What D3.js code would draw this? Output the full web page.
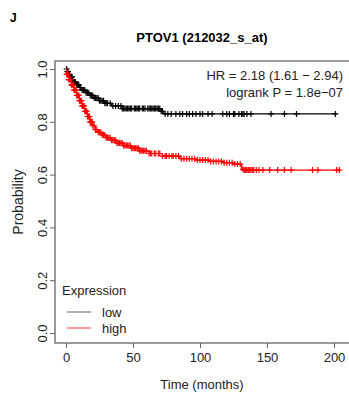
<!DOCTYPE html>
<html>
<head>
<meta charset="utf-8">
<script src="https://cdn.jsdelivr.net/npm/d3@7"></script>
<style>
  body { margin: 0; background: #fff; }
  svg { display: block; font-family: "Liberation Sans", Arial, sans-serif; }
</style>
</head>
<body>
<div id="chart"></div>
<script>
// Kaplan-Meier steps: [time (months), survival]
const lowSteps = [
    [0, 1.0], [1, 0.99], [2, 0.98], [3, 0.97], [5, 0.96], [6, 0.95], [8, 0.94],
    [10, 0.93], [12, 0.92], [15, 0.91], [18, 0.90], [21, 0.89], [25, 0.88],
    [29, 0.87], [34, 0.86], [42, 0.85], [71, 0.84], [73, 0.83]
];
const highSteps = [
    [0, 1.0], [0.5, 0.98], [2, 0.96], [4, 0.94], [6, 0.92], [8, 0.90], [10, 0.88],
    [12, 0.86], [14, 0.84], [16, 0.82], [18, 0.80], [20, 0.785], [22, 0.77],
    [24, 0.76], [27, 0.75], [30, 0.74], [34, 0.73], [38, 0.72], [43, 0.71],
    [49, 0.70], [55, 0.69], [62, 0.68], [72, 0.67], [85, 0.66], [97, 0.655],
    [108, 0.65], [118, 0.645], [125, 0.64], [131, 0.62], [133, 0.617]
];
const lowEnd = 202;
const highEnd = 204;

// censoring times (the "+" marks)
const lowCensor = [
    0.5, 1, 1.5, 2, 2.5, 3, 4, 4.5, 5, 6, 6.5, 7, 8, 9, 9.5, 10.5, 11, 12, 13, 14,
    15, 16, 17, 18, 19, 20, 21, 22, 23, 24, 25, 26, 27, 28, 29, 30, 31, 33, 35, 37,
    39, 41, 42, 43, 44, 45, 46, 47, 48, 49, 51, 52, 53, 54, 55, 57, 58, 59, 61, 62,
    63, 64, 65, 66, 67, 68, 69, 70, 71, 72,
    74, 76, 78.5, 82, 85, 87, 90, 92, 94.5, 97, 100, 102, 106, 109, 117, 120, 122,
    125, 126, 129, 131, 132, 133, 135, 138, 153, 163, 172, 201
];
const highCensor = [
    0.5, 1, 1.5, 2, 2.5, 3, 3.5, 4, 4.5, 5, 5.5, 6, 6.5, 7, 7.5, 8, 8.5, 9, 9.5, 10,
    10.5, 11, 11.5, 12, 12.5, 13, 13.5, 14, 14.5, 15, 15.5, 16, 16.5, 17, 17.5, 18,
    18.5, 19, 19.5, 20, 21, 22, 23, 24, 25, 26, 27, 28, 29, 30, 31, 32, 33, 34, 35,
    36, 37, 38, 39, 40, 41, 42, 43, 44, 45, 46, 47, 48, 49, 50, 51, 52, 53, 54, 55,
    56, 57, 58, 59, 60, 62, 63, 64, 66, 67, 69, 70,
    72, 74, 75, 77, 79, 80, 82, 84, 86, 88, 90, 92, 94, 96, 98, 100, 102, 104, 106,
    108, 110, 112, 114, 116, 118, 120, 122, 124, 126, 128, 130,
    132, 133, 134, 135, 136, 137, 138, 139, 140, 142, 144, 147, 152, 158, 163, 168,
    184, 188, 202, 204
];

const xTicks = [0, 50, 100, 150, 200];
const yTicks = [0, 0.2, 0.4, 0.6, 0.8, 1.0];
const legendLabels = ["low", "high"];
const title = "PTOV1 (212032_s_at)";
const statLines = ["HR = 2.18 (1.61 \u2212 2.94)", "logrank P = 1.8e\u221207"];

const width = 349, height = 393;
const box = { left: 55, top: 61, right: 352, bottom: 343 };

const svg = d3.select("#chart").append("svg")
    .attr("width", width)
    .attr("height", height);

const x = d3.scaleLinear().domain([0, 200]).range([66, 334]);
const y = d3.scaleLinear().domain([0, 1]).range([333, 69]);

// plot box
svg.append("rect")
    .attr("x", box.left).attr("y", box.top)
    .attr("width", box.right - box.left).attr("height", box.bottom - box.top)
    .attr("fill", "none").attr("stroke", "#666").attr("stroke-width", 1.3);

// axes
const xAxis = svg.append("g")
    .attr("transform", `translate(0,${box.bottom})`)
    .call(d3.axisBottom(x).tickValues(xTicks).tickSize(5).tickPadding(5).tickFormat(d3.format("d")));
xAxis.select(".domain").remove();
xAxis.selectAll("line").attr("stroke", "#666");
xAxis.selectAll("text").attr("fill", "#222").style("font-size", "13px");

const yAxis = svg.append("g")
    .attr("transform", `translate(${box.left},0)`)
    .call(d3.axisLeft(y).tickValues(yTicks).tickSize(5).tickFormat(d3.format(".1f")));
yAxis.select(".domain").remove();
yAxis.selectAll("line").attr("stroke", "#666");
yAxis.selectAll("text")
    .attr("fill", "#222")
    .style("font-size", "13px")
    .attr("x", 0).attr("dy", 0)
    .attr("text-anchor", "middle")
    .attr("transform", "translate(-13,0) rotate(-90)")
    .attr("dominant-baseline", "central");

// labels
svg.append("text")
    .attr("x", 10).attr("y", 22)
    .style("font-size", "12px").style("font-weight", "bold")
    .text("J");

svg.append("text")
    .attr("x", 202).attr("y", 42)
    .attr("text-anchor", "middle")
    .style("font-size", "13px").style("font-weight", "bold")
    .text(title);

svg.append("text")
    .attr("x", 202).attr("y", 389)
    .attr("text-anchor", "middle")
    .style("font-size", "13px").attr("fill", "#222")
    .text("Time (months)");

svg.append("text")
    .attr("transform", "translate(23,202) rotate(-90)")
    .attr("text-anchor", "middle")
    .style("font-size", "14px").attr("fill", "#222")
    .text("Probability");

svg.selectAll(".stat")
    .data(statLines)
    .enter().append("text")
    .attr("x", 343)
    .attr("y", (d, i) => 80 + i * 17)
    .attr("text-anchor", "end")
    .style("font-size", "13px").attr("fill", "#222")
    .text(d => d);

// curves
const line = d3.line()
    .x(d => x(d[0]))
    .y(d => y(d[1]))
    .curve(d3.curveStepAfter);

function survAt(steps, t) {
    const i = d3.bisector(d => d[0]).right(steps, t) - 1;
    return steps[Math.max(0, i)][1];
}

function drawCurve(steps, end, censor, color) {
    const pts = steps.concat([[end, steps[steps.length - 1][1]]]);
    svg.append("path")
        .datum(pts)
        .attr("fill", "none")
        .attr("stroke", color)
        .attr("stroke-width", 1.2)
        .attr("d", line);
    const marks = svg.append("g");
    censor.forEach(t => {
        const cx = x(t), cy = y(survAt(steps, t));
        marks.append("path")
            .attr("d", `M${cx - 3},${cy}h6M${cx},${cy - 3}v6`)
            .attr("stroke", color)
            .attr("stroke-width", 1.2);
    });
}

drawCurve(lowSteps, lowEnd, lowCensor, "#000");
drawCurve(highSteps, highEnd, highCensor, "#f00");

// legend
const legend = svg.append("g");
legend.append("text")
    .attr("x", 62).attr("y", 295)
    .style("font-size", "13px").attr("fill", "#222")
    .text("Expression");
const legendColors = ["#666", "#f9a0a0"];
legendLabels.forEach((lab, i) => {
    const ly = 312 + i * 16;
    legend.append("line")
        .attr("x1", 67).attr("x2", 91)
        .attr("y1", ly).attr("y2", ly)
        .attr("stroke", legendColors[i])
        .attr("stroke-width", i === 0 ? 1 : 2);
    legend.append("text")
        .attr("x", 102).attr("y", ly + 5)
        .style("font-size", "13px").attr("fill", "#222")
        .text(lab);
});
</script>
</body>
</html>
